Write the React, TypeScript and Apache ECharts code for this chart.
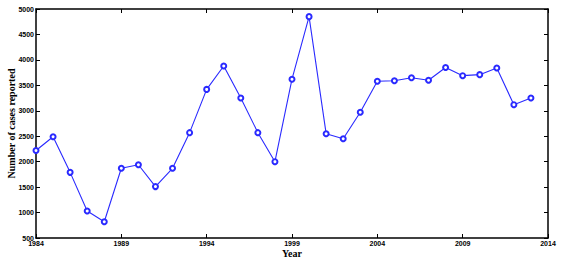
import React, { useEffect, useRef } from "react";
import * as echarts from "echarts";

const years: string[] = [];
for (let y = 1984; y <= 2014; y++) years.push(String(y));

const cases = [
  2220, 2490, 1790, 1030, 820, 1870, 1940, 1510, 1870, 2570,
  3420, 3880, 3250, 2570, 2000, 3620, 4850, 2550, 2450, 2970,
  3580, 3590, 3650, 3600, 3850, 3690, 3710, 3840, 3120, 3250,
];

const yMin = 500;
const yMax = 5000;
const yStep = 500;

export default function App() {
  const ref = useRef<HTMLDivElement>(null);
  useEffect(() => {
    if (!ref.current) return;
    const chart = echarts.init(ref.current, null, { renderer: "svg" });
    const axisLine = { show: true, lineStyle: { color: "#000", width: 1.5 } };
    const tickStyle = { color: "#000", width: 1 };
    const labelFont = {
      fontFamily: "Liberation Sans, Arial, sans-serif",
      fontWeight: "bold" as const,
      fontSize: 7,
      color: "#000",
    };
    chart.setOption({
      animation: false,
      grid: {
        left: 36,
        right: 13,
        top: 9,
        bottom: 26,
        containLabel: false,
        outerBoundsMode: "none",
      },
      xAxis: [
        {
          type: "category",
          data: years,
          boundaryGap: false,
          position: "bottom",
          axisLine,
          axisTick: { show: true, inside: true, length: 4, interval: 4, lineStyle: tickStyle },
          axisLabel: { ...labelFont, interval: 4, margin: 2 },
          splitLine: { show: false },
          name: "Year",
          nameLocation: "middle",
          nameGap: 10,
          nameMoveOverlap: false,
          nameTextStyle: {
            fontFamily: "Liberation Serif, Times New Roman, serif",
            fontWeight: "bold",
            fontSize: 10,
            color: "#000",
          },
        },
        {
          type: "category",
          data: years,
          boundaryGap: false,
          position: "top",
          axisLine,
          axisTick: { show: true, inside: true, length: 4, interval: 4, lineStyle: tickStyle },
          axisLabel: { show: false },
          splitLine: { show: false },
        },
      ],
      yAxis: [
        {
          type: "value",
          min: yMin,
          max: yMax,
          interval: yStep,
          position: "left",
          axisLine,
          axisTick: { show: true, inside: true, length: 4, lineStyle: tickStyle },
          axisLabel: { ...labelFont, margin: 2, formatter: (v: number) => String(v) },
          splitLine: { show: false },
          name: "Number of cases reported",
          nameLocation: "middle",
          nameGap: 20,
          nameMoveOverlap: false,
          nameRotate: 90,
          nameTextStyle: {
            fontFamily: "Liberation Serif, Times New Roman, serif",
            fontWeight: "bold",
            fontSize: 10,
            color: "#000",
          },
        },
        {
          type: "value",
          min: yMin,
          max: yMax,
          interval: yStep,
          position: "right",
          axisLine,
          axisTick: { show: true, inside: true, length: 4, lineStyle: tickStyle },
          axisLabel: { show: false },
          splitLine: { show: false },
        },
      ],
      series: [
        {
          type: "line",
          data: cases,
          xAxisIndex: 0,
          yAxisIndex: 0,
          symbol: "emptyCircle",
          symbolSize: 5,
          showAllSymbol: true,
          lineStyle: { color: "#2a2aff", width: 1.1 },
          itemStyle: { color: "#2a2aff", borderColor: "#2a2aff", borderWidth: 1 },
        },
      ],
    });
    return () => chart.dispose();
  }, []);
  return (
    <div
      ref={ref}
      style={{ position: "absolute", left: 0, top: 0, width: 561, height: 264 }}
    />
  );
}
